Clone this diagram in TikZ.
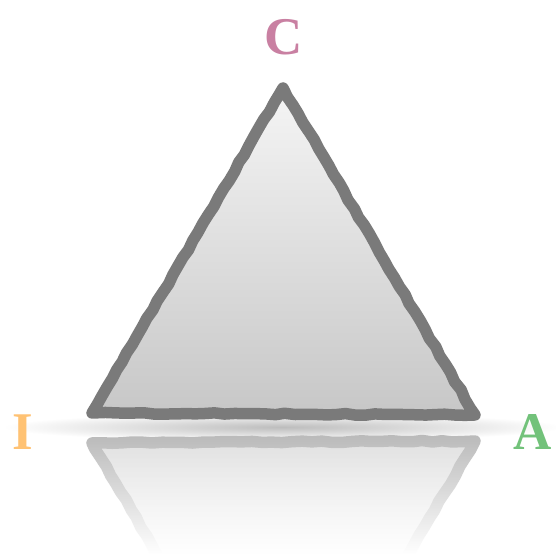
\documentclass[tikz,border=0pt]{standalone}
\usepackage{fontspec}
\setmainfont{Liberation Serif}
\usetikzlibrary{decorations.pathmorphing,fadings}
\definecolor{edgegray}{RGB}{122,122,122}
\definecolor{reflgray}{RGB}{184,184,184}
\definecolor{ccol}{RGB}{201,128,162}
\definecolor{icol}{RGB}{255,194,115}
\definecolor{acol}{RGB}{114,194,122}
\tikzfading[name=reflfade, top color=transparent!100, bottom color=transparent!0]
\tikzset{
  rough/.style={decorate, decoration={random steps, segment length=10pt, amplitude=0.8pt}},
  tristroke/.style={rough, line width=11.5pt, line join=round, line cap=round, draw=edgegray},
  reflstroke/.style={rough, line width=11.5pt, line join=round, line cap=round, draw=reflgray},
  lbl/.style={font=\fontsize{53}{53}\selectfont\bfseries, inner sep=0pt}
}
\begin{document}
\pgfmathsetseed{7}
\begin{tikzpicture}[x=1pt,y=1pt]
\useasboundingbox (0,0) rectangle (555,556);
\fill[white] (0,0) rectangle (555,556);
\coordinate (tC) at (283,468);
\coordinate (tI) at (92,143);
\coordinate (tA) at (475,141);
\coordinate (rC) at (283,-212);
\coordinate (rI) at (92,113);
\coordinate (rA) at (475,115);
% soft shadow band
\shade[inner color=black!26, outer color=white] (283,129) ellipse [x radius=280, y radius=14];
% reflection
\begin{scope}
  \clip (0,0) rectangle (555,125);
  \shade[top color=black!13, bottom color=white] (rI) -- (rA) -- (rC) -- cycle;
  \draw[reflstroke] (rI) -- (rA) -- (rC) -- cycle;
  \fill[white, path fading=reflfade] (0,2) rectangle (555,125);
  \fill[white] (0,0) rectangle (555,2);
\end{scope}
% triangle
\shade[top color=black!4, bottom color=black!22] (tC) -- (tA) -- (tI) -- cycle;
\draw[tristroke] (tC) -- (tA) -- (tI) -- cycle;
% labels
\node[lbl, text=ccol] (C) at (284,519) {C};
\node[lbl, text=icol] (I) at (23,124) {I};
\node[lbl, text=acol] (A) at (533,124) {A};
\end{tikzpicture}
\end{document}
